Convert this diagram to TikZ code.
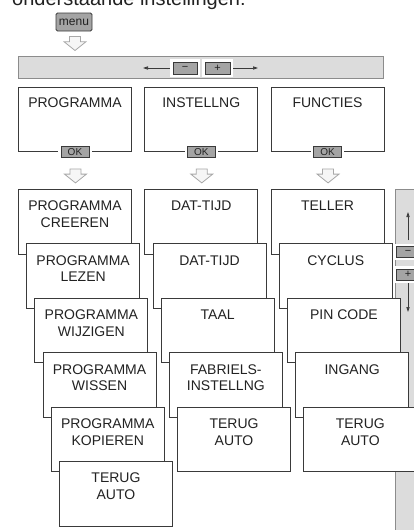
\documentclass[tikz,border=0pt]{standalone}
\usepackage{fontspec}
\setmainfont{Liberation Sans}
\usetikzlibrary{arrows.meta,calc}
\definecolor{boxline}{HTML}{3A3A3A}
\definecolor{barfill}{HTML}{DCDCDC}
\definecolor{barline}{HTML}{8C8C8C}
\definecolor{btnfill}{HTML}{A4A4A4}
\definecolor{btnline}{HTML}{3A3A3A}
\definecolor{harrowline}{HTML}{A8A8A8}
\definecolor{harrowfill}{HTML}{F6F6F6}
\definecolor{txt}{HTML}{222222}
\begin{document}
\begin{tikzpicture}[x=1pt,y=-1pt,
  menubox/.style={draw=boxline, line width=0.9pt, fill=white, minimum width=113pt,
    minimum height=64.5pt, anchor=north west, inner sep=0pt},
  boxtext/.style={anchor=north, align=center, inner sep=0pt,
    font=\fontsize{14}{16.5}\selectfont, text=txt},
  btn/.style={draw=btnline, fill=btnfill, line width=0.8pt, inner sep=0pt, text=txt},
  wbtn/.style={btn, preaction={draw=white, line width=5.5pt}},
  bar/.style={draw=barline, fill=barfill, line width=0.8pt, inner sep=0pt, anchor=north west},
  smallarrow/.style={draw=boxline, line width=0.7pt, -{Triangle[length=5pt,width=3.2pt]}},
  harrow/.pic={\path[draw=harrowline, fill=harrowfill, line width=0.8pt, line join=miter]
    (-5.5,0) -- ++(11,0) -- ++(0,5.2) -- ++(5.5,0) -- ++(-11,8.8) -- ++(-11,-8.8) -- ++(5.5,0) -- cycle;}
]
\useasboundingbox (0,0) rectangle (414,530);
\clip (0,0) rectangle (414,530);

% intro text (cut at the top edge)
\node[anchor=base west, inner sep=0pt, font=\fontsize{20}{24}\selectfont, text=txt] (intro) at (12,5.5) {onderstaande instellingen:};

% menu button
\node[btn, minimum width=36pt, minimum height=18pt, rounded corners=1.5pt,
  font=\fontsize{12}{14}\selectfont] (menu) at (74,22) {menu};
\pic at (75,36.5) {harrow};

% top bar with - / + buttons
\node[bar, minimum width=365pt, minimum height=22pt] (bar) at (18,56) {};
\node[wbtn, minimum width=24pt, minimum height=12pt, font=\fontsize{11}{12}\selectfont] (minus) at (185,68) {−};
\node[wbtn, minimum width=25pt, minimum height=12pt, font=\fontsize{11}{12}\selectfont] (plus) at (217.5,68) {+};
\coordinate (lend) at (143,68);
\coordinate (rend) at (258,68);
\draw[smallarrow] ($(minus.west)+(-2.8,0)$) -- (lend);
\draw[smallarrow] ($(plus.east)+(2.8,0)$) -- (rend);

% top level boxes
\node[menubox, minimum height=64pt] (top1) at (18,87) {};
\node[boxtext] (top1t) at ($(top1.north)+(0,10.5)$) {PROGRAMMA};
\node[menubox, minimum height=64pt] (top2) at (144.3,87) {};
\node[boxtext] (top2t) at ($(top2.north)+(0,10.5)$) {INSTELLNG};
\node[menubox, minimum height=64pt] (top3) at (270.6,87) {};
\node[boxtext] (top3t) at ($(top3.north)+(0,10.5)$) {FUNCTIES};

\foreach \n in {1,2,3}{
  \node[wbtn, minimum width=28pt, minimum height=11pt, font=\fontsize{10}{11}\selectfont] (ok\n) at (top\n.south) {OK};
  \pic at ($(top\n.south)+(0.5,17)$) {harrow};
}

% side bar
\node[bar, minimum width=30pt, minimum height=350pt] (side) at (395,189) {};
\node[wbtn, minimum width=24pt, minimum height=10.5pt, font=\fontsize{11}{12}\selectfont] (sminus) at (408,252) {−};
\node[wbtn, minimum width=24pt, minimum height=11pt, font=\fontsize{11}{12}\selectfont] (splus) at (408,274.5) {+};
\coordinate (uptip) at (408,212);
\coordinate (downtip) at (408,312);
\draw[smallarrow] ($(sminus.north)+(0,-6)$) -- (uptip);
\draw[smallarrow] ($(splus.south)+(0,3)$) -- (downtip);

% column 1
\foreach [count=\i from 0] \t in {{PROGRAMMA\\CREEREN},{PROGRAMMA\\LEZEN},{PROGRAMMA\\WIJZIGEN},{PROGRAMMA\\WISSEN},{PROGRAMMA\\KOPIEREN},{TERUG\\AUTO}}{
  \node[menubox] (ca\i) at ({18+8.2*\i},{189+54.4*\i}) {};
  \node[boxtext] (cat\i) at ($(ca\i.north)+(0,12)$) {\t};
}
% column 2
\foreach [count=\i from 0] \t in {{DAT-TIJD},{DAT-TIJD},{TAAL},{FABRIELS-\\INSTELLNG},{TERUG\\AUTO}}{
  \node[menubox] (cb\i) at ({144.3+8.2*\i},{189+54.4*\i}) {};
  \node[boxtext] (cbt\i) at ($(cb\i.north)+(0,12)$) {\t};
}
% column 3
\foreach [count=\i from 0] \t in {{TELLER},{CYCLUS},{PIN CODE},{INGANG},{TERUG\\AUTO}}{
  \node[menubox] (cc\i) at ({270.6+8.2*\i},{189+54.4*\i}) {};
  \node[boxtext] (cct\i) at ($(cc\i.north)+(0,12)$) {\t};
}
\end{tikzpicture}
\end{document}
